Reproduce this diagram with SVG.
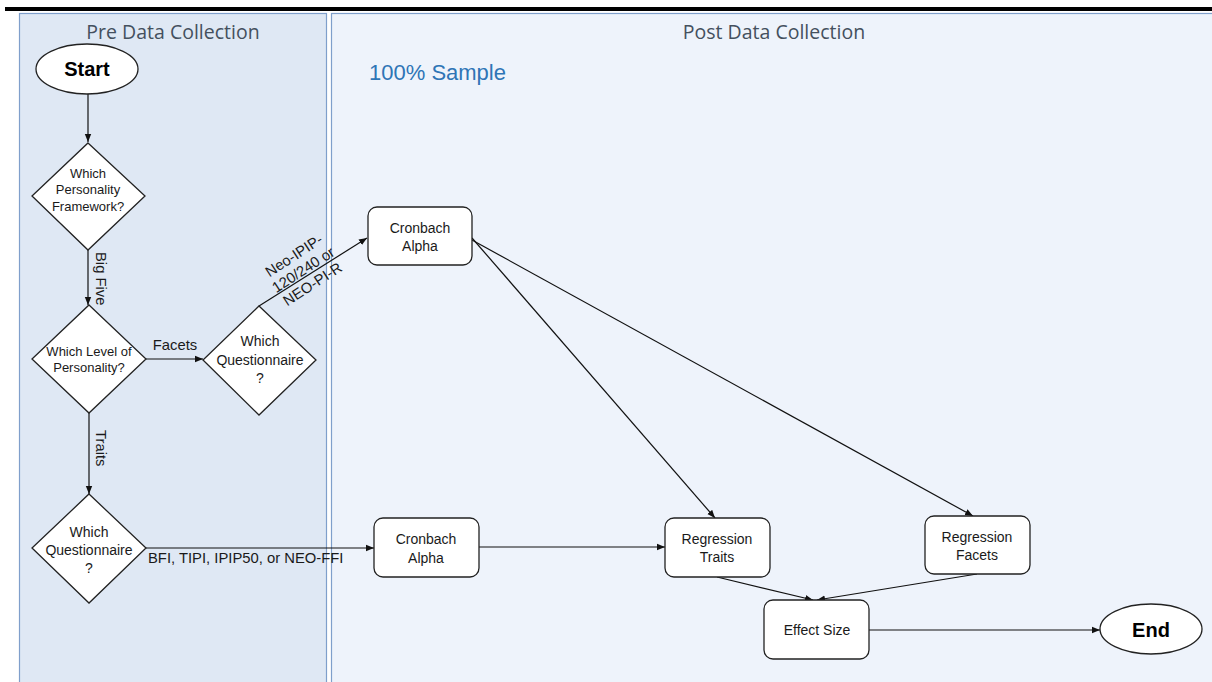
<svg xmlns="http://www.w3.org/2000/svg" width="1212" height="682" viewBox="0 0 1212 682">
<style>
.lane-title{font-family:"Open Sans","Liberation Sans",sans-serif;font-size:19.5px;fill:#44505e;text-anchor:middle}
.t{font-family:"Liberation Sans",Arial,sans-serif;font-size:14px;fill:#1a1a1a;text-anchor:middle}
.ts{font-family:"Liberation Sans",Arial,sans-serif;font-size:13px;fill:#1a1a1a;text-anchor:middle}
.tb{font-family:"Liberation Sans",Arial,sans-serif;font-size:20px;font-weight:bold;fill:#000;text-anchor:middle}
.shape{fill:#fff;stroke:#222;stroke-width:1.3}
.conn{stroke:#111;stroke-width:1.2;fill:none;marker-end:url(#arr)}
.lbl{font-family:"Liberation Sans",Arial,sans-serif;font-size:14.8px;fill:#1a1a1a}
</style>
<defs>
<marker id="arr" viewBox="0 0 10 10" refX="10" refY="5" markerWidth="8" markerHeight="8" markerUnits="userSpaceOnUse" orient="auto">
<path d="M0,1 L10,5 L0,9 Z" fill="#111"/>
</marker>
</defs>
<rect x="0" y="0" width="1212" height="682" fill="#fff"/>
<rect x="5" y="7" width="1207" height="4" fill="#000"/>
<g id="lane-pre">
<rect x="19.5" y="13.5" width="307" height="670" fill="#dfe8f4" stroke="#7f9fcb" stroke-width="1.2"/>
<text class="lane-title" x="173" y="39">Pre Data Collection</text>
</g>
<g id="lane-post">
<rect x="331.5" y="13.5" width="890" height="670" fill="#eef3fb" stroke="#7f9fcb" stroke-width="1.2"/>
<text class="lane-title" x="774" y="39">Post Data Collection</text>
<text x="369" y="80" font-family="Liberation Sans,Arial,sans-serif" font-size="22" fill="#2e75b6">100% Sample</text>
</g>
<g id="connectors">
<line class="conn" x1="88" y1="94" x2="88" y2="142"/>
<line class="conn" x1="88" y1="250" x2="88" y2="305"/>
<line class="conn" x1="146" y1="359" x2="203" y2="359"/>
<line class="conn" x1="259" y1="306" x2="367" y2="238"/>
<line class="conn" x1="89" y1="413" x2="89" y2="494"/>
<line class="conn" x1="146" y1="548" x2="374" y2="548"/>
<line class="conn" x1="472" y1="238" x2="715" y2="518"/>
<line class="conn" x1="472" y1="240" x2="973" y2="516"/>
<line class="conn" x1="479" y1="547" x2="665" y2="547"/>
<line class="conn" x1="717" y1="577" x2="813" y2="600"/>
<line class="conn" x1="977" y1="574" x2="817" y2="600"/>
<line class="conn" x1="869" y1="630" x2="1100" y2="630"/>
<text class="lbl" transform="translate(96,252) rotate(90)">Big Five</text>
<text class="lbl" x="175" y="350" text-anchor="middle">Facets</text>
<text class="lbl" transform="translate(96,430) rotate(90)">Traits</text>
<text class="lbl" x="148" y="563">BFI, TIPI, IPIP50, or NEO-FFI</text>
<g transform="translate(306,274) rotate(-33)">
<text class="lbl" x="0" y="-17" text-anchor="middle">Neo-IPIP-</text>
<text class="lbl" x="0" y="0" text-anchor="middle">120/240 or</text>
<text class="lbl" x="0" y="17" text-anchor="middle">NEO-PI-R</text>
</g>
</g>
<g id="start">
<ellipse class="shape" cx="87" cy="69" rx="51" ry="25"/>
<text class="tb" x="87" y="76">Start</text>
</g>
<g id="q-framework">
<polygon class="shape" points="88,143 145,196 88,250 32,196"/>
<text class="ts" x="88" y="178">Which</text>
<text class="ts" x="88" y="194">Personality</text>
<text class="ts" x="88" y="211">Framework?</text>
</g>
<g id="q-level">
<polygon class="shape" points="89,305 146,359 89,413 32,359"/>
<text class="ts" x="89" y="356" font-size="12">Which Level of</text>
<text class="ts" x="89" y="372" font-size="12">Personality?</text>
</g>
<g id="q-questionnaire-facets">
<polygon class="shape" points="259,306 316,360 259,415 203,360"/>
<text class="t" x="260" y="346">Which</text>
<text class="t" x="260" y="365">Questionnaire</text>
<text class="t" x="260" y="383">?</text>
</g>
<g id="q-questionnaire-traits">
<polygon class="shape" points="89,494 146,548 89,603 32,548"/>
<text class="t" x="89" y="537">Which</text>
<text class="t" x="89" y="555">Questionnaire</text>
<text class="t" x="89" y="573">?</text>
</g>
<g id="cronbach1">
<rect class="shape" x="368" y="207" width="104" height="58" rx="9"/>
<text class="t" x="420" y="233">Cronbach</text>
<text class="t" x="420" y="251">Alpha</text>
</g>
<g id="cronbach2">
<rect class="shape" x="374" y="518" width="105" height="59" rx="9"/>
<text class="t" x="426" y="544">Cronbach</text>
<text class="t" x="426" y="563">Alpha</text>
</g>
<g id="reg-traits">
<rect class="shape" x="665" y="518" width="105" height="59" rx="9"/>
<text class="t" x="717" y="544">Regression</text>
<text class="t" x="717" y="562">Traits</text>
</g>
<g id="reg-facets">
<rect class="shape" x="925" y="516" width="105" height="58" rx="9"/>
<text class="t" x="977" y="542">Regression</text>
<text class="t" x="977" y="560">Facets</text>
</g>
<g id="effect-size">
<rect class="shape" x="764" y="600" width="105" height="59" rx="9"/>
<text class="t" x="817" y="635">Effect Size</text>
</g>
<g id="end">
<ellipse class="shape" cx="1151" cy="629" rx="51" ry="25"/>
<text class="tb" x="1151" y="637">End</text>
</g>
</svg>
